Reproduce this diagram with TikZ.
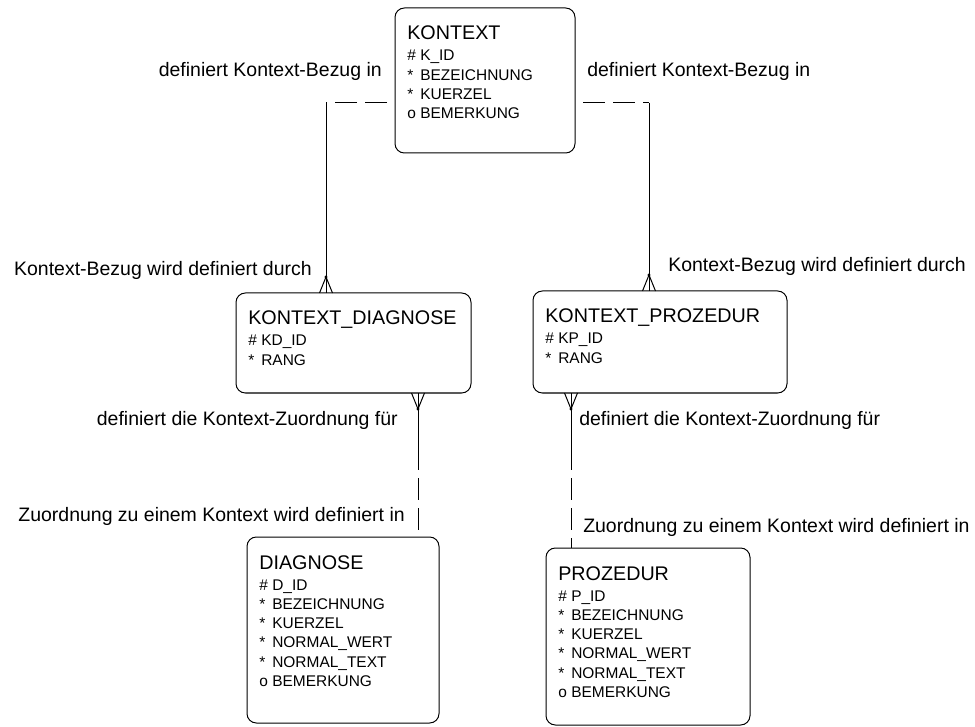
\documentclass[tikz,border=0pt]{standalone}
\usepackage{fontspec}
\setmainfont{Liberation Sans}
\usetikzlibrary{calc}

\tikzset{
  ent/.style={draw, line width=0.75pt, rounded corners=7pt, inner sep=0pt,
    outer sep=0pt, anchor=north west},
  ttl/.style={anchor=base west, inner sep=0pt, font=\fontsize{14.8}{17}\selectfont},
  att/.style={anchor=base west, inner sep=0pt, font=\fontsize{11.6}{14}\selectfont},
  lbl/.style={inner sep=0pt, font=\fontsize{14.6}{17}\selectfont},
  rel/.style={line width=0.75pt},
  opt/.style={rel, dash pattern=on 16.5pt off 6pt, dash phase=16.5pt},
  crowfoot/.pic={
    \draw[rel] (-6.5,0) -- (0,-16) -- (6.5,0);
    \draw[rel] (0,0) -- (0,-16);
    \fill (0,-16) circle[radius=1.2pt];
  }
}

% entity box: name, x, y, width, height (pixels), title, attribute list symbol/name
\newcommand\entity[7]{%
  \node[ent, minimum width=#4*0.75pt, minimum height=#5*0.75pt] (#1) at (#2,#3) {};
  \node[ttl] (#1-t) at ($(#1.north west)+(12,32)$) {#6};
  \foreach \s/\a [count=\i from 0] in {#7} {
    \node[att] (#1-s\i) at ($(#1.north west)+(12,53+19.3*\i)$) {\s};
    \node[att] (#1-a\i) at ($(#1.north west)+(25,53+19.3*\i)$) {\a};
  }
}

\begin{document}
\begin{tikzpicture}[x=0.75pt,y=-0.75pt]
  \fill[white] (0,0) rectangle (975,727);
  \useasboundingbox (0,0) rectangle (975,727);

  % entities
  \entity{K}{395}{8}{180}{145}{KONTEXT}%
    {\#/K\_ID, */BEZEICHNUNG, */KUERZEL, o/BEMERKUNG}
  \entity{KD}{236}{293}{235}{100}{KONTEXT\_DIAGNOSE}%
    {\#/KD\_ID, */RANG}
  \entity{KP}{533}{291}{254}{102}{KONTEXT\_PROZEDUR}%
    {\#/KP\_ID, */RANG}
  \entity{D}{247}{537}{192}{186}{DIAGNOSE}%
    {\#/D\_ID, */BEZEICHNUNG, */KUERZEL, */NORMAL\_WERT, */NORMAL\_TEXT, o/BEMERKUNG}
  \entity{P}{546}{548}{204}{177}{PROZEDUR}%
    {\#/P\_ID, */BEZEICHNUNG, */KUERZEL, */NORMAL\_WERT, */NORMAL\_TEXT, o/BEMERKUNG}

  % KONTEXT -- KONTEXT_DIAGNOSE
  \coordinate (kd-in) at ($(KD.north west)+(90,0)$);
  \coordinate (k-outl) at ($(K.north west)+(0,95)$);
  \coordinate (kd-bend) at (k-outl -| kd-in);
  \draw[opt] (k-outl) -- (kd-bend);
  \draw[rel] (kd-bend) -- ($(kd-in)+(0,-16)$);
  \pic at (kd-in) {crowfoot};

  % KONTEXT -- KONTEXT_PROZEDUR
  \coordinate (kp-in) at ($(KP.north west)+(116,0)$);
  \coordinate (k-outr) at ($(K.north east)+(0,95)$);
  \coordinate (kp-bend) at (k-outr -| kp-in);
  \draw[opt] (k-outr) -- (kp-bend);
  \draw[rel] (kp-bend) -- ($(kp-in)+(0,-16)$);
  \pic at (kp-in) {crowfoot};

  % KONTEXT_DIAGNOSE -- DIAGNOSE
  \coordinate (kd-out) at ($(KD.south west)+(182,0)$);
  \coordinate (d-in) at (kd-out |- D.north);
  \coordinate (kd-mid) at ($(kd-out)+(0,77)$);
  \pic[yscale=-1] at (kd-out) {crowfoot};
  \draw[rel] ($(kd-out)+(0,16)$) -- (kd-mid);
  \draw[opt] (kd-mid) -- (d-in);

  % KONTEXT_PROZEDUR -- PROZEDUR
  \coordinate (kp-out) at ($(KP.south west)+(38,0)$);
  \coordinate (p-in) at (kp-out |- P.north);
  \coordinate (kp-mid) at ($(kp-out)+(0,77)$);
  \pic[yscale=-1] at (kp-out) {crowfoot};
  \draw[rel] ($(kp-out)+(0,16)$) -- (kp-mid);
  \draw[opt] (kp-mid) -- (p-in);

  % relationship labels
  \node[lbl, anchor=base east] (l1) at (382,77) {definiert Kontext-Bezug in};
  \node[lbl, anchor=base west] (l2) at (587,77) {definiert Kontext-Bezug in};
  \node[lbl, anchor=base east] (l3) at (312,276) {Kontext-Bezug wird definiert durch};
  \node[lbl, anchor=base west] (l4) at (668,272) {Kontext-Bezug wird definiert durch};
  \node[lbl, anchor=base east] (l5) at (398,426) {definiert die Kontext-Zuordnung für};
  \node[lbl, anchor=base west] (l6) at (579,425) {definiert die Kontext-Zuordnung für};
  \node[lbl, anchor=base east] (l7) at (405,521) {Zuordnung zu einem Kontext wird definiert in};
  \node[lbl, anchor=base west] (l8) at (583,532) {Zuordnung zu einem Kontext wird definiert in};
\end{tikzpicture}
\end{document}
